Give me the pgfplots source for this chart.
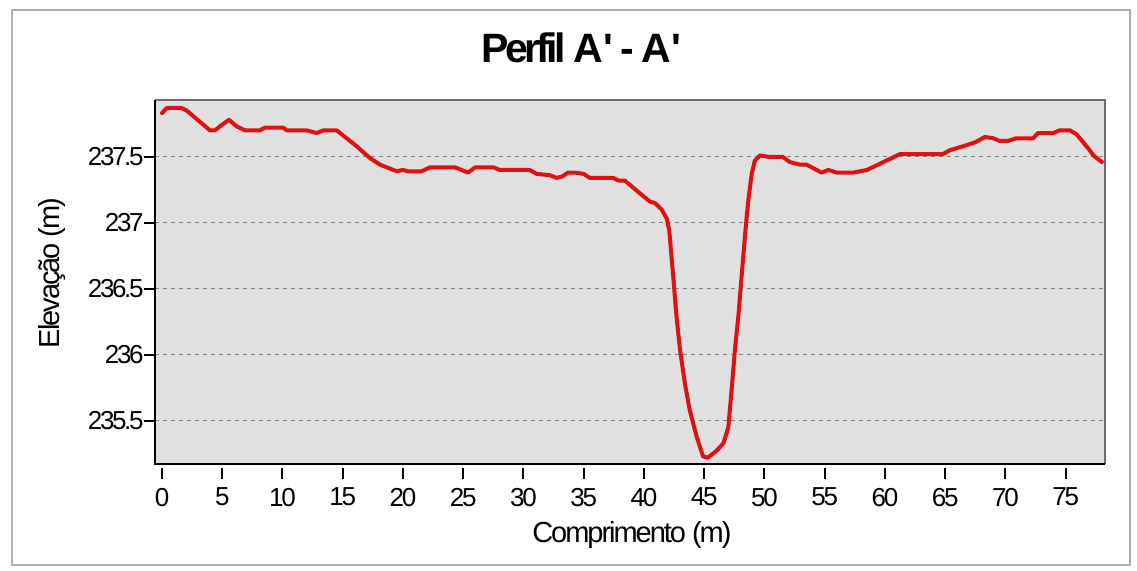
\documentclass[border=0pt]{standalone}
\usepackage{fontspec}
\setmainfont{Liberation Sans}
\usepackage{pgfplots}
\pgfplotsset{compat=1.18}
\definecolor{bgc}{RGB}{224,224,224}
\definecolor{linered}{RGB}{222,18,18}
\definecolor{framegray}{RGB}{175,175,175}
\begin{document}
\begin{tikzpicture}
% picture bounds (1px = 0.5pt)
\path[fill=white] (-77.5pt,-53pt) rectangle (491pt,232pt);
\draw[framegray, line width=0.8pt] (-71.5pt,-50.5pt) rectangle (487.5pt,227pt);
\begin{axis}[
  at={(0pt,0pt)}, anchor=south west,
  scale only axis,
  width=475pt, height=182pt,
  xmin=-0.58, xmax=78.26,
  ymin=235.172, ymax=237.93,
  xtick={0,5,...,75},
  ytick={235.5,236,236.5,237,237.5},
  yticklabels={235.5,236,236.5,237,237.5},
  xticklabels={0,5,10,15,20,25,30,35,40,45,50,55,60,65,70,75},
  axis background/.style={fill=bgc},
  axis line style={draw=none},
  ymajorgrids,
  major grid style={dash pattern=on 2pt off 2pt, gray, line width=0.5pt},
  tick align=outside,
  major tick length=5.5pt,
  xtick style={black, line width=1pt, yshift=-2pt},
  ytick style={black, line width=0.8pt},
  xtick pos=bottom, ytick pos=left,
  tick label style={font=\fontsize{13}{15}\selectfont\addfontfeatures{LetterSpace=-9}},
  yticklabel style={inner sep=0pt, anchor=east},
  xticklabel style={yshift=-3pt},
  /pgf/number format/assume math mode=true,
  clip=false,
  title={\fontsize{20.5}{24}\selectfont\bfseries\addfontfeatures{LetterSpace=-9}Perfil A\textquotesingle{} - A\textquotesingle},
  title style={at={(axis description cs:0.449,1.11)}, anchor=center},
  xlabel={Comprimento (m)},
  xlabel style={at={(axis description cs:0.502,-0.195)}, anchor=center, font=\fontsize{14.5}{16}\selectfont\addfontfeatures{LetterSpace=-7}},
  ylabel={Elevação (m)},
  ylabel style={at={(axis description cs:-0.108,0.525)}, anchor=center, rotate=0, font=\fontsize{14.5}{16}\selectfont\addfontfeatures{LetterSpace=-7}},
]
\addplot[linered, line width=2pt, line join=round, line cap=round] coordinates {
(0.0,237.83) (0.4,237.87) (1.6,237.87) (2.05,237.85) (3.98,237.70) (4.4,237.70)
(4.95,237.74) (5.56,237.78) (6.2,237.73) (6.9,237.70) (8.1,237.70) (8.55,237.72)
(10.07,237.72) (10.35,237.70) (12.0,237.70) (12.84,237.68) (13.4,237.70) (14.5,237.70)
(15.05,237.66) (16.15,237.58) (17.26,237.49) (18.1,237.44) (19.48,237.39) (20.0,237.40)
(20.4,237.39) (21.55,237.39) (22.24,237.42) (24.3,237.42) (25.4,237.38) (26.0,237.42)
(27.5,237.42) (28.05,237.40) (30.5,237.40) (31.1,237.37) (32.2,237.36) (32.75,237.34)
(33.2,237.35) (33.7,237.38) (34.3,237.38) (35.0,237.37) (35.5,237.34) (37.45,237.34)
(37.87,237.32) (38.4,237.32) (39.7,237.22) (40.5,237.16) (40.9,237.15) (41.47,237.10)
(41.9,237.03) (42.1,236.94) (42.24,236.79) (42.43,236.59) (42.7,236.29) (42.99,236.04)
(43.4,235.78) (43.8,235.58) (44.37,235.38) (44.9,235.23) (45.3,235.22) (46.0,235.27)
(46.6,235.33) (47.0,235.45) (47.27,235.73) (47.55,236.04) (47.83,236.29) (48.1,236.59)
(48.4,236.92) (48.66,237.17) (48.94,237.37) (49.2,237.47) (49.6,237.51) (50.3,237.50)
(51.5,237.50) (52.1,237.46) (52.95,237.44) (53.5,237.44) (54.74,237.38) (55.3,237.40)
(56.0,237.38) (57.4,237.38) (58.5,237.40) (60.1,237.47) (61.25,237.52) (64.8,237.52)
(65.4,237.55) (66.5,237.58) (67.5,237.61) (68.3,237.65) (69.0,237.64) (69.5,237.62)
(70.2,237.62) (70.9,237.64) (72.3,237.64) (72.7,237.68) (73.97,237.68) (74.5,237.70)
(75.35,237.70) (75.9,237.67) (76.45,237.61) (76.9,237.56) (77.3,237.51) (78.0,237.46)
};
\draw[gray!85!black, line width=1pt] (rel axis cs:0,1) -- (rel axis cs:1,1) -- (rel axis cs:1,0);
\draw[black, line width=1pt] (rel axis cs:0,1) -- (rel axis cs:0,0) -- (rel axis cs:1,0);
\end{axis}
\end{tikzpicture}
\end{document}
